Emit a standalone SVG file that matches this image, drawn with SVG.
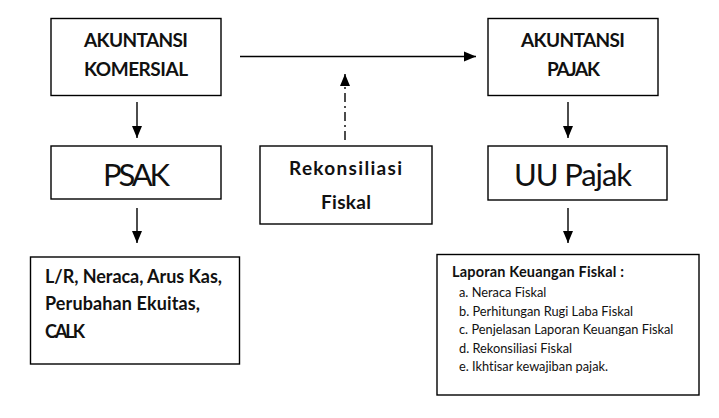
<svg xmlns="http://www.w3.org/2000/svg" width="719" height="418" viewBox="0 0 719 418">
<style>
.box{fill:#fff;stroke:#000;stroke-width:1.4}
.t{font-family:Lato,"Open Sans",sans-serif;fill:#111;font-variant-ligatures:none}
.b{font-weight:bold}
.c{stroke:#000;stroke-width:1.4;fill:none}
</style>
<defs>
<marker id="ah" markerUnits="userSpaceOnUse" markerWidth="12" markerHeight="12" viewBox="0 0 12 10" refX="12" refY="5" orient="auto">
<path d="M0,0 L12,5 L0,10 Z" fill="#000"/>
</marker>
</defs>
<rect width="719" height="418" fill="#fff"/>
<g id="connectors">
<line class="c" x1="240" y1="56.5" x2="476" y2="56.5" marker-end="url(#ah)"/>
<line class="c" x1="345" y1="140" x2="345" y2="74" stroke-dasharray="9 4 2 4" marker-end="url(#ah)"/>
<line class="c" x1="137" y1="102" x2="137" y2="138" marker-end="url(#ah)"/>
<line class="c" x1="568" y1="102" x2="568" y2="138" marker-end="url(#ah)"/>
<line class="c" x1="137" y1="208" x2="137" y2="243" marker-end="url(#ah)"/>
<line class="c" x1="568" y1="208" x2="568" y2="243" marker-end="url(#ah)"/>
</g>
<g id="komersial">
<rect class="box" x="51" y="18.5" width="170" height="77"/>
<text class="t b" x="84" y="47" font-size="19" textLength="104">AKUNTANSI</text>
<text class="t b" x="84" y="76" font-size="19" textLength="104">KOMERSIAL</text>
</g>
<g id="pajak">
<rect class="box" x="488" y="18.5" width="170" height="77"/>
<text class="t b" x="521" y="47" font-size="19" textLength="104">AKUNTANSI</text>
<text class="t b" x="547" y="76" font-size="19" textLength="53">PAJAK</text>
</g>
<g id="psak">
<rect class="box" x="51" y="146" width="170" height="53"/>
<text class="t" x="103" y="186" font-size="31" textLength="67">PSAK</text>
</g>
<g id="rekonsiliasi">
<rect class="box" x="260" y="146" width="172" height="78"/>
<text class="t b" x="289" y="175" font-size="19" textLength="113">Rekonsiliasi</text>
<text class="t b" x="321" y="209" font-size="19" textLength="50">Fiskal</text>
</g>
<g id="uupajak">
<rect class="box" x="488" y="146" width="179" height="54"/>
<text class="t" x="514" y="186" font-size="31" textLength="118">UU Pajak</text>
</g>
<g id="lr">
<rect class="box" x="30.5" y="257" width="209" height="107"/>
<text class="t b" x="45" y="283" font-size="18" textLength="177">L/R, Neraca, Arus Kas,</text>
<text class="t b" x="45" y="310" font-size="18" textLength="155">Perubahan Ekuitas,</text>
<text class="t b" x="45" y="338" font-size="18" textLength="40">CALK</text>
</g>
<g id="laporan">
<rect class="box" x="437" y="254.5" width="262" height="140.5"/>
<text class="t b" x="452" y="277" font-size="14.5" textLength="172">Laporan Keuangan Fiskal :</text>
<text class="t" x="459" y="297" font-size="12.8">a. Neraca Fiskal</text>
<text class="t" x="459" y="315.5" font-size="12.8">b. Perhitungan Rugi Laba Fiskal</text>
<text class="t" x="459" y="334" font-size="12.8">c. Penjelasan Laporan Keuangan Fiskal</text>
<text class="t" x="459" y="352.5" font-size="12.8">d. Rekonsiliasi Fiskal</text>
<text class="t" x="459" y="371" font-size="12.8">e. Ikhtisar kewajiban pajak.</text>
</g>
</svg>
